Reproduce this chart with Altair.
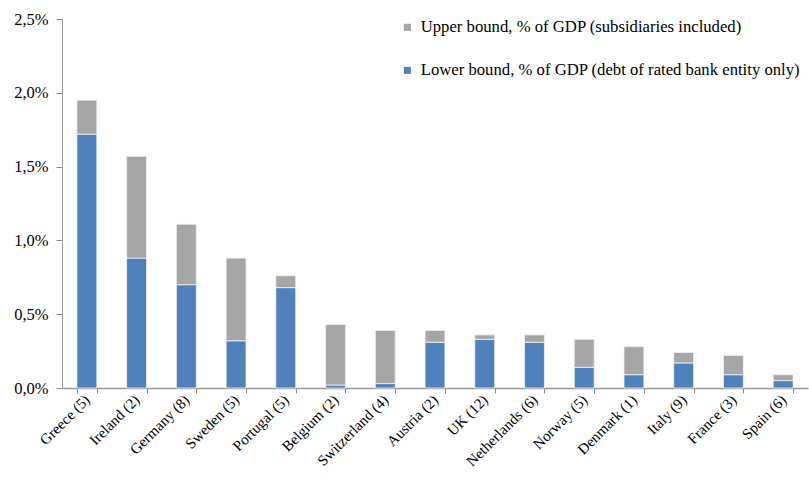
import altair as alt
import pandas as pd

# Countries (number of rated banks in brackets)
countries = ["Greece (5)", "Ireland (2)", "Germany (8)", "Sweden (5)", "Portugal (5)",
             "Belgium (2)", "Switzerland (4)", "Austria (2)", "UK (12)", "Netherlands (6)",
             "Norway (5)", "Denmark (1)", "Italy (9)", "France (3)", "Spain (6)"]
# Share of GDP
upper_bound = [0.0195, 0.0157, 0.0111, 0.0088, 0.0076, 0.0043, 0.0039, 0.0039,
               0.0036, 0.0036, 0.0033, 0.0028, 0.0024, 0.0022, 0.0009]
lower_bound = [0.0172, 0.0088, 0.0070, 0.0032, 0.0068, 0.0002, 0.0003, 0.0031,
               0.0033, 0.0031, 0.0014, 0.0009, 0.0017, 0.0009, 0.0005]

upper_name = "Upper bound, % of GDP (subsidiaries included)"
lower_name = "Lower bound, % of GDP (debt of rated bank entity only)"

rows = []
for c, up, lo in zip(countries, upper_bound, lower_bound):
    rows.append({"country": c, "series": lower_name, "y0": 0.0, "y1": lo})
    rows.append({"country": c, "series": upper_name, "y0": lo, "y1": up})
df = pd.DataFrame(rows)

FONT = "Liberation Serif"

chart = alt.Chart(df).mark_bar(stroke="#f2f2f2", strokeWidth=0.8).encode(
    x=alt.X("country:N", sort=countries,
            scale=alt.Scale(paddingInner=0.6, paddingOuter=0.3),
            axis=alt.Axis(title=None, labelAngle=-45, labelAlign="right",
                          labelBaseline="middle", labelFontSize=15, labelFont=FONT,
                          labelColor="#000000", labelPadding=4, labelLimit=400,
                          labelOverlap=False,
                          tickBand="extent", ticks=True, tickSize=5,
                          tickColor="#888888", domainColor="#999999",
                          domainWidth=1.5)),
    y=alt.Y("y0:Q",
            scale=alt.Scale(domain=[0, 0.025], nice=False),
            axis=alt.Axis(title=None, values=[0, 0.005, 0.01, 0.015, 0.02, 0.025],
                          labelExpr="replace(format(datum.value, '.1%'), '.', ',')",
                          labelFontSize=16.5, labelFont=FONT, labelColor="#000000",
                          labelPadding=8, tickSize=6, tickColor="#888888",
                          domainColor="#999999", grid=False)),
    y2="y1:Q",
    color=alt.Color("series:N",
                    scale=alt.Scale(domain=[upper_name, lower_name],
                                    range=["#a6a6a6", "#4f81bd"]),
                    legend=alt.Legend(title=None, orient="none", legendX=337,
                                      legendY=0, symbolType="square", symbolSize=50,
                                      symbolStrokeWidth=0, labelFont=FONT,
                                      labelFontSize=16.7, labelColor="#000000",
                                      rowPadding=25, labelOffset=5,
                                      labelLimit=500)),
).properties(
    width=746, height=369,
    autosize="none",
    padding={"left": 62, "top": 19, "right": 1, "bottom": 104},
).configure_view(stroke=None)

chart.save("out.html", embed_options={"renderer": "svg", "actions": False})
